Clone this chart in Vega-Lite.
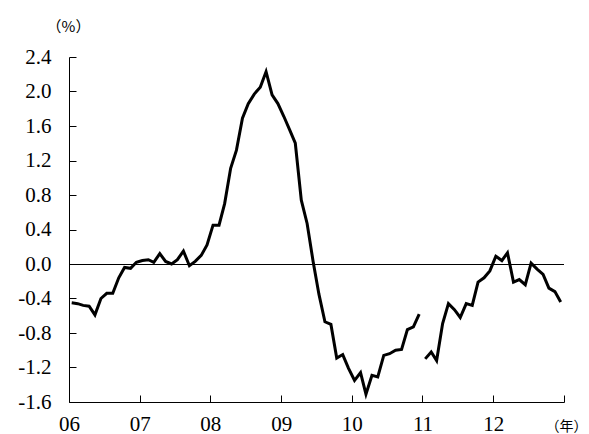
{
  "$schema": "https://vega.github.io/schema/vega-lite/v6.json",
  "width": 495,
  "height": 345,
  "autosize": {"type": "none"},
  "padding": {"left": 69, "top": 57, "right": 25, "bottom": 32},
  "background": "white",
  "config": {
    "view": {"stroke": null},
    "axis": {
      "grid": false,
      "domainColor": "black",
      "domainWidth": 1,
      "tickColor": "black",
      "tickWidth": 1,
      "labelColor": "black",
      "labelFont": "Liberation Serif",
      "labelFontSize": 21,
      "labelOverlap": false,
      "titleColor": "black",
      "titleFont": "Noto Sans CJK JP",
      "titleFontSize": 15,
      "titleFontWeight": "normal"
    }
  },
  "layer": [
    {
      "data": {
        "values": [
          {"date": "2006-01-15", "value": -0.45, "segment": "A"},
          {"date": "2006-02-15", "value": -0.46, "segment": "A"},
          {"date": "2006-03-15", "value": -0.48, "segment": "A"},
          {"date": "2006-04-15", "value": -0.49, "segment": "A"},
          {"date": "2006-05-15", "value": -0.59, "segment": "A"},
          {"date": "2006-06-15", "value": -0.40, "segment": "A"},
          {"date": "2006-07-15", "value": -0.34, "segment": "A"},
          {"date": "2006-08-15", "value": -0.34, "segment": "A"},
          {"date": "2006-09-15", "value": -0.16, "segment": "A"},
          {"date": "2006-10-15", "value": -0.04, "segment": "A"},
          {"date": "2006-11-15", "value": -0.05, "segment": "A"},
          {"date": "2006-12-15", "value": 0.02, "segment": "A"},
          {"date": "2007-01-15", "value": 0.04, "segment": "A"},
          {"date": "2007-02-15", "value": 0.05, "segment": "A"},
          {"date": "2007-03-15", "value": 0.02, "segment": "A"},
          {"date": "2007-04-15", "value": 0.12, "segment": "A"},
          {"date": "2007-05-15", "value": 0.03, "segment": "A"},
          {"date": "2007-06-15", "value": 0.00, "segment": "A"},
          {"date": "2007-07-15", "value": 0.05, "segment": "A"},
          {"date": "2007-08-15", "value": 0.15, "segment": "A"},
          {"date": "2007-09-15", "value": -0.02, "segment": "A"},
          {"date": "2007-10-15", "value": 0.03, "segment": "A"},
          {"date": "2007-11-15", "value": 0.10, "segment": "A"},
          {"date": "2007-12-15", "value": 0.22, "segment": "A"},
          {"date": "2008-01-15", "value": 0.45, "segment": "A"},
          {"date": "2008-02-15", "value": 0.45, "segment": "A"},
          {"date": "2008-03-15", "value": 0.70, "segment": "A"},
          {"date": "2008-04-15", "value": 1.11, "segment": "A"},
          {"date": "2008-05-15", "value": 1.32, "segment": "A"},
          {"date": "2008-06-15", "value": 1.69, "segment": "A"},
          {"date": "2008-07-15", "value": 1.86, "segment": "A"},
          {"date": "2008-08-15", "value": 1.97, "segment": "A"},
          {"date": "2008-09-15", "value": 2.05, "segment": "A"},
          {"date": "2008-10-15", "value": 2.23, "segment": "A"},
          {"date": "2008-11-15", "value": 1.96, "segment": "A"},
          {"date": "2008-12-15", "value": 1.86, "segment": "A"},
          {"date": "2009-01-15", "value": 1.71, "segment": "A"},
          {"date": "2009-02-15", "value": 1.55, "segment": "A"},
          {"date": "2009-03-15", "value": 1.40, "segment": "A"},
          {"date": "2009-04-15", "value": 0.74, "segment": "A"},
          {"date": "2009-05-15", "value": 0.47, "segment": "A"},
          {"date": "2009-06-15", "value": 0.03, "segment": "A"},
          {"date": "2009-07-15", "value": -0.35, "segment": "A"},
          {"date": "2009-08-15", "value": -0.67, "segment": "A"},
          {"date": "2009-09-15", "value": -0.70, "segment": "A"},
          {"date": "2009-10-15", "value": -1.09, "segment": "A"},
          {"date": "2009-11-15", "value": -1.05, "segment": "A"},
          {"date": "2009-12-15", "value": -1.21, "segment": "A"},
          {"date": "2010-01-15", "value": -1.35, "segment": "A"},
          {"date": "2010-02-15", "value": -1.26, "segment": "A"},
          {"date": "2010-03-15", "value": -1.51, "segment": "A"},
          {"date": "2010-04-15", "value": -1.29, "segment": "A"},
          {"date": "2010-05-15", "value": -1.31, "segment": "A"},
          {"date": "2010-06-15", "value": -1.06, "segment": "A"},
          {"date": "2010-07-15", "value": -1.04, "segment": "A"},
          {"date": "2010-08-15", "value": -1.00, "segment": "A"},
          {"date": "2010-09-15", "value": -0.99, "segment": "A"},
          {"date": "2010-10-15", "value": -0.76, "segment": "A"},
          {"date": "2010-11-15", "value": -0.73, "segment": "A"},
          {"date": "2010-12-15", "value": -0.58, "segment": "A"},
          {"date": "2011-01-15", "value": -1.10, "segment": "B"},
          {"date": "2011-02-15", "value": -1.02, "segment": "B"},
          {"date": "2011-03-15", "value": -1.12, "segment": "B"},
          {"date": "2011-04-15", "value": -0.69, "segment": "B"},
          {"date": "2011-05-15", "value": -0.46, "segment": "B"},
          {"date": "2011-06-15", "value": -0.53, "segment": "B"},
          {"date": "2011-07-15", "value": -0.62, "segment": "B"},
          {"date": "2011-08-15", "value": -0.46, "segment": "B"},
          {"date": "2011-09-15", "value": -0.48, "segment": "B"},
          {"date": "2011-10-15", "value": -0.21, "segment": "B"},
          {"date": "2011-11-15", "value": -0.16, "segment": "B"},
          {"date": "2011-12-15", "value": -0.08, "segment": "B"},
          {"date": "2012-01-15", "value": 0.09, "segment": "B"},
          {"date": "2012-02-15", "value": 0.04, "segment": "B"},
          {"date": "2012-03-15", "value": 0.13, "segment": "B"},
          {"date": "2012-04-15", "value": -0.21, "segment": "B"},
          {"date": "2012-05-15", "value": -0.18, "segment": "B"},
          {"date": "2012-06-15", "value": -0.24, "segment": "B"},
          {"date": "2012-07-15", "value": 0.01, "segment": "B"},
          {"date": "2012-08-15", "value": -0.06, "segment": "B"},
          {"date": "2012-09-15", "value": -0.12, "segment": "B"},
          {"date": "2012-10-15", "value": -0.28, "segment": "B"},
          {"date": "2012-11-15", "value": -0.32, "segment": "B"},
          {"date": "2012-12-15", "value": -0.44, "segment": "B"}
        ]
      },
      "mark": {"type": "line", "color": "black", "strokeWidth": 3},
      "encoding": {
        "x": {
          "field": "date",
          "type": "temporal",
          "scale": {
            "type": "utc",
            "domain": [
              {"year": 2006, "month": 1, "date": 1, "utc": true},
              {"year": 2013, "month": 1, "date": 1, "utc": true}
            ]
          },
          "axis": {
            "values": [
              {"year": 2006, "month": 1, "date": 1, "utc": true},
              {"year": 2007, "month": 1, "date": 1, "utc": true},
              {"year": 2008, "month": 1, "date": 1, "utc": true},
              {"year": 2009, "month": 1, "date": 1, "utc": true},
              {"year": 2010, "month": 1, "date": 1, "utc": true},
              {"year": 2011, "month": 1, "date": 1, "utc": true},
              {"year": 2012, "month": 1, "date": 1, "utc": true},
              {"year": 2013, "month": 1, "date": 1, "utc": true}
            ],
            "tickCount": 20,
            "labelExpr": "utcFormat(datum.value, '%y') == '13' ? '' : utcFormat(datum.value, '%y')",
            "labelFlush": false,
            "labelOverlap": false,
            "tickSize": -7,
            "labelPadding": 18,
            "title": "（年）",
            "titleFontSize": 14,
            "titleX": 497,
            "titleY": 24,
            "titleAlign": "center",
            "titleBaseline": "middle"
          }
        },
        "y": {
          "field": "value",
          "type": "quantitative",
          "scale": {"domain": [-1.6, 2.4], "nice": false, "zero": false},
          "axis": {
            "values": [-1.6, -1.2, -0.8, -0.4, 0, 0.4, 0.8, 1.2, 1.6, 2.0, 2.4],
            "tickCount": 20,
            "labelExpr": "(datum.value < 0 ? '-' : '') + format(abs(datum.value), '.1f')",
            "tickSize": -7,
            "labelPadding": 25,
            "labelOverlap": false,
            "title": "（%）",
            "titleAngle": 0,
            "titleX": -1,
            "titleY": -31,
            "titleAlign": "center",
            "titleBaseline": "middle"
          }
        },
        "detail": {"field": "segment", "type": "nominal"}
      }
    },
    {
      "data": {"values": [{}]},
      "mark": {"type": "rule", "color": "black", "strokeWidth": 1, "yOffset": 0.5},
      "encoding": {"y": {"datum": 0}}
    }
  ]
}
